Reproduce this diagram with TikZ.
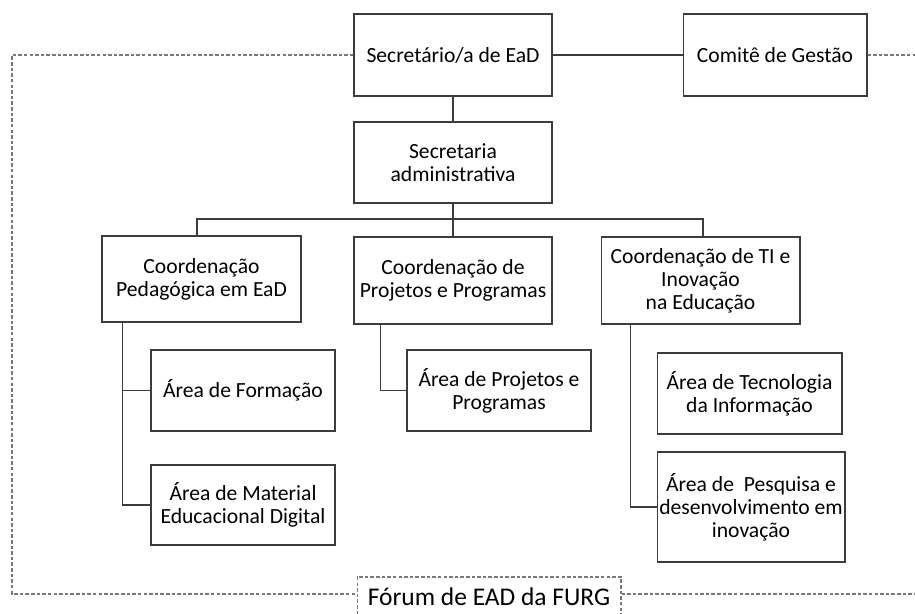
\documentclass[tikz,border=0pt]{standalone}
\usepackage{fontspec}
\setmainfont{Carlito}
\usepackage{xcolor}
\usepackage{tikz}
\usetikzlibrary{positioning,calc}
\definecolor{LineGray}{RGB}{60,60,60}
\definecolor{DashGray}{RGB}{120,120,120}

\begin{document}
\begin{tikzpicture}[x=0.02cm, y=-0.02cm]
	\tikzset{
		b/.style={rectangle, draw=LineGray, line width=0.6pt, fill=white,
			inner sep=0pt, align=center, font=\fontsize{12.3pt}{13.2pt}\selectfont},
		e/.style={draw=LineGray, line width=0.6pt},
		dl/.style={draw=DashGray, line width=0.6pt, dash pattern=on 2pt off 1.2pt}
	}
	\useasboundingbox (0,0) rectangle (915,613);
	
	\node[b, minimum width=3.96cm, minimum height=1.64cm] (sec) at (453, 55) {Secretário/a de EaD};
	\node[b, minimum width=3.68cm, minimum height=1.64cm] (com) at (775, 55) {Comitê de Gestão};
	\node[b, minimum width=3.96cm, minimum height=1.62cm] (adm) at (453,162.5) {Secretaria\\administrativa};
	
	\node[b, minimum width=3.98cm, minimum height=1.72cm] (cped) at (201.5,279) {Coordenação\\Pedagógica em EaD};
	\node[b, minimum width=3.96cm, minimum height=1.74cm] (cproj) at (453,280.5) {Coordenação de\\Projetos e Programas};
	\node[b, minimum width=3.98cm, minimum height=1.74cm] (cti) at (700.5,280.5) {Coordenação de TI e\\Inovação\\na Educação};
	
	\node[b, minimum width=3.68cm, minimum height=1.62cm] (aform) at (243,390.5) {Área de Formação};
	\node[b, minimum width=3.68cm, minimum height=1.60cm] (amat) at (243,505) {Área de Material\\Educacional Digital};
	\node[b, minimum width=3.68cm, minimum height=1.62cm] (aproj) at (499,390.5) {Área de Projetos e\\Programas};
	\node[b, minimum width=3.70cm, minimum height=1.62cm] (atec) at (749.5,393.5) {Área de Tecnologia\\da Informação};
	\node[b, minimum width=3.76cm, minimum height=2.20cm] (apesq) at (751,507) {Área de\ \ Pesquisa e\\desenvolvimento em\\inovação};
	
	\node[b, draw=DashGray, dash pattern=on 2pt off 1.2pt, minimum width=5.28cm, minimum height=0.80cm,
		font=\fontsize{14.5pt}{16pt}\selectfont] (forum) at (489,597) {Fórum de EAD da FURG};
	
	% forum border
	\coordinate (tl) at (12,55);
	\coordinate (bl) at (12,594);
	\coordinate (tr) at (915,55);
	\coordinate (br) at (915,594);
	\draw[dl] (sec.west) -- (tl) -- (bl) -- (bl -| forum.west);
	\draw[dl] (com.east) -- (tr);
	\draw[dl] (br -| forum.east) -- (br);
	
	% main links
	\draw[e] (sec.east) -- (com.west);
	\draw[e] (sec.south) -- (adm.north);
	\draw[e] (adm.south) -- (cproj.north);
	\coordinate (busl) at (197,219);
	\coordinate (busr) at (703,219);
	\draw[e] (cped.north -| busl) -- (busl) -- (busr) -- (cti.north -| busr);
	
	% areas
	\draw[e] ([xshift=0.42cm]cped.south west) |- (amat.west);
	\draw[e] ([xshift=0.42cm]cped.south west) |- (aform.west);
	\draw[e] ([xshift=0.54cm]cproj.south west) |- (aproj.west);
	\draw[e] ([xshift=0.60cm]cti.south west) |- (apesq.west);
\end{tikzpicture}
\end{document}
